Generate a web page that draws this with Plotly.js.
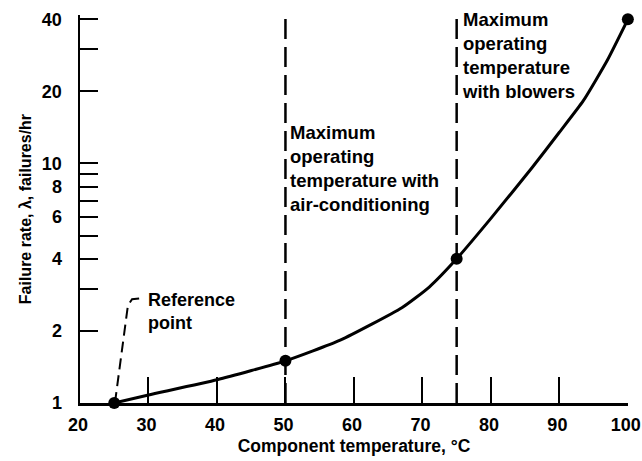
<!DOCTYPE html>
<html>
<head>
<meta charset="utf-8">
<script src="https://cdn.plot.ly/plotly-3.0.1.min.js"></script>
<style>html,body{margin:0;padding:0;background:#fff;}#chart{width:642px;height:461px;}</style>
</head>
<body>
<div id="chart"></div>
<script>
// Failure-rate curve
var curveTemp = [25, 30, 40, 50, 58, 67, 71, 75, 80, 86, 90, 93.5, 97, 100];
var curveRate = [1.0, 1.08, 1.25, 1.5, 1.83, 2.5, 3.05, 4.0, 5.9, 9.6, 13.5, 18.3, 27, 40];
// Marked points
var pointTemp = [25, 50, 75, 100];
var pointRate = [1.0, 1.5, 4.0, 40];
// Maximum operating temperatures (dashed verticals)
var limitTemp = [50, 75];
var limitText = ["Maximum<br>operating<br>temperature with<br>air-conditioning",
                 "Maximum<br>operating<br>temperature<br>with blowers"];
// Reference-point leader line
var leaderTemp = [25.1, 27.0, 27.6, 29.0];
var leaderRate = [1.0, 2.56, 2.71, 2.74];
// Ticks
var xTicks = [20, 30, 40, 50, 60, 70, 80, 90, 100];
var yTicks = [1, 2, 4, 6, 8, 10, 20, 40];
var yMinor = [3, 5, 7, 9, 30];

var FONT = "Liberation Sans, Arial, Helvetica, sans-serif";
var bold = function (s) { return String(s).split("<br>").map(function (p) { return "<b>" + p + "</b>"; }).join("<br>"); };

var traces = [
  {x: curveTemp, y: curveRate, mode: "lines", line: {color: "#000", width: 3, shape: "spline", smoothing: 0.5},
   hoverinfo: "skip", cliponaxis: false},
  {x: pointTemp, y: pointRate, mode: "markers", marker: {color: "#000", size: 12},
   cliponaxis: false},
  {x: leaderTemp, y: leaderRate, mode: "lines", line: {color: "#000", width: 2, dash: "11px,6px"},
   cliponaxis: false}
];

var shapes = limitTemp.map(function (t) {
  return {type: "line", xref: "x", yref: "paper", x0: t, x1: t, y0: 0, y1: 1.005,
          line: {color: "#000", width: 2.5, dash: "20px,8px"}};
});

var annFont = {family: FONT, size: 18.5, color: "#000"};
var annotations = [
  {xref: "x", yref: "paper", x: limitTemp[0], y: 0.73, text: bold(limitText[0]), showarrow: false,
   xanchor: "left", yanchor: "top", align: "left", xshift: 3, font: annFont},
  {xref: "x", yref: "paper", x: limitTemp[1], y: 1.02, text: bold(limitText[1]), showarrow: false,
   xanchor: "left", yanchor: "top", align: "left", xshift: 3, font: annFont},
  {xref: "x", yref: "y", x: 29.6, y: Math.log10(2.42), text: bold("Reference<br>point"), showarrow: false,
   xanchor: "left", yanchor: "middle", align: "left", font: {family: FONT, size: 18, color: "#000"}},
  {xref: "paper", yref: "paper", x: -0.1, y: 0.5, text: bold("Failure rate, \u03bb, failures/hr"), textangle: -90,
   showarrow: false, xanchor: "center", yanchor: "middle", font: {family: FONT, size: 16, color: "#000"}}
];

var layout = {
  width: 642, height: 461,
  margin: {l: 80, r: 14, t: 15, b: 58},
  paper_bgcolor: "#fff", plot_bgcolor: "#fff",
  showlegend: false,
  font: {family: FONT, color: "#000", size: 18},
  xaxis: {
    range: [20, 100.02], tickmode: "array", tickvals: xTicks, ticktext: xTicks.map(bold),
    ticks: "inside", ticklen: 26, tickwidth: 2, tickcolor: "#000",
    showline: true, linecolor: "#000", linewidth: 2.5, showgrid: false, zeroline: false,
    tickfont: {family: FONT, size: 18, color: "#000"}, ticklabelstandoff: 4,
    ticklabeloverflow: "allow", ticklabelshift: -2,
    title: {text: bold("Component temperature, \u00b0C"), font: {family: FONT, size: 17.5, color: "#000"}, standoff: 6}
  },
  yaxis: {
    type: "log", range: [0, 1.62], tickmode: "array", tickvals: yTicks, ticktext: yTicks.map(bold),
    ticks: "inside", ticklen: 18, tickwidth: 2, tickcolor: "#000",
    minor: {tickmode: "array", tickvals: yMinor, ticks: "inside", ticklen: 18, tickwidth: 2, tickcolor: "#000", showgrid: false},
    showline: true, linecolor: "#000", linewidth: 2.5, showgrid: false, zeroline: false,
    tickfont: {family: FONT, size: 18, color: "#000"}, ticklabelstandoff: 12
  },
  shapes: shapes,
  annotations: annotations
};

Plotly.newPlot("chart", traces, layout, {displayModeBar: false, staticPlot: true});
</script>
</body>
</html>
